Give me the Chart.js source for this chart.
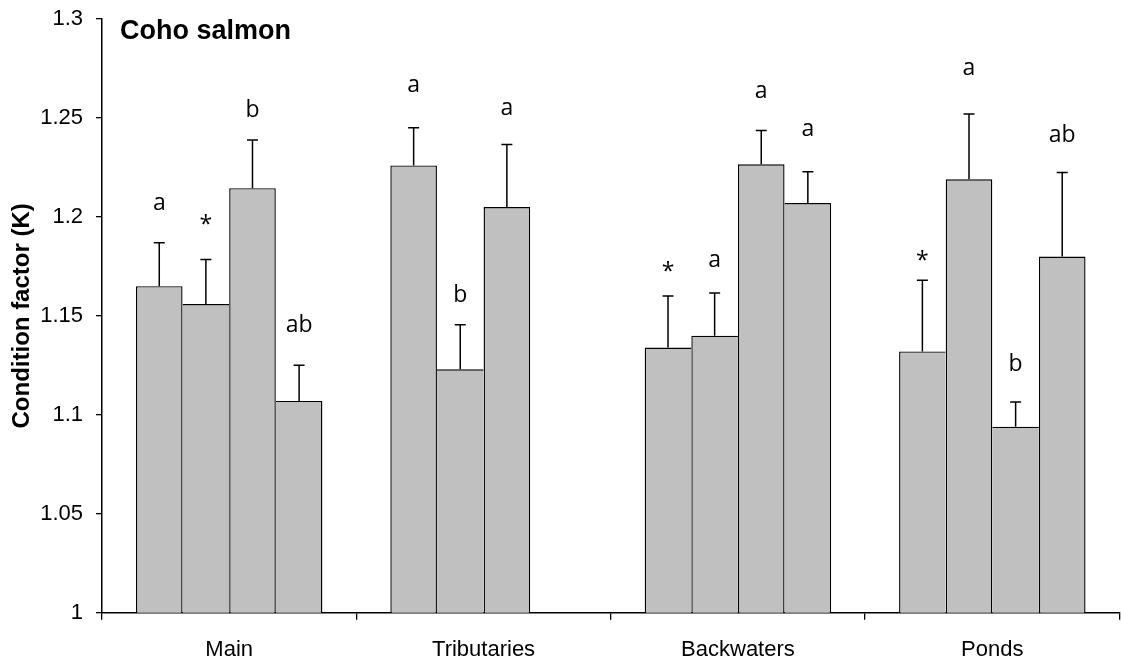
<!DOCTYPE html>
<html>
<head>
<meta charset="utf-8">
<title>Coho salmon condition factor</title>
<script src="https://cdn.jsdelivr.net/npm/chart.js@4.4.1/dist/chart.umd.min.js"></script>
<style>
  html, body { margin: 0; padding: 0; background: #fff; }
  #wrap { width: 1122px; height: 662px; }
</style>
</head>
<body>
<div id="wrap"><canvas id="chart" width="1122" height="662"></canvas></div>
<script>
// Habitat types along the x axis
const categories = ['Main', 'Tributaries', 'Backwaters', 'Ponds'];

// Mean condition factor (K), one array per bar position in each habitat group
const meanK1 = [1.165, 1.226, 1.134, 1.132];
const meanK2 = [1.156, 1.123, 1.140, 1.219];
const meanK3 = [1.2145, 1.205, 1.2266, 1.094];
const meanK4 = [1.107, null, 1.207, 1.180];

// Upper error (SE) for each bar
const errK1 = [0.022, 0.019, 0.026, 0.036];
const errK2 = [0.0225, 0.0225, 0.0215, 0.033];
const errK3 = [0.0244, 0.0316, 0.017, 0.0125];
const errK4 = [0.018, null, 0.0158, 0.0424];

// Significance letters above each bar
const sig1 = ['a', 'a', '*', '*'];
const sig2 = ['*', 'b', 'a', 'a'];
const sig3 = ['b', 'a', 'a', 'b'];
const sig4 = ['ab', '', 'a', 'ab'];

// Y axis tick labels (1.00 to 1.30 in steps of 0.05)
const yTickLabels = ['1', '1.05', '1.1', '1.15', '1.2', '1.25', '1.3'];

// Vertical gap (px) between each error cap and the centre of its letter
const letterLift = [
  [39, 42, 30, 25],
  [40, 32, 33, 45],
  [32, 36, 39, 40],
  [42, 0, 42, 40]
];

const means = [meanK1, meanK2, meanK3, meanK4];
const errors = [errK1, errK2, errK3, errK4];
const letters = [sig1, sig2, sig3, sig4];

const BAR_FILL = '#c0c0c0';
const INK = '#000000';
const AXIS_FONT = '"Liberation Sans", Arial, sans-serif';
const EDGE = 1.4;

// Outline: a shared side between neighbouring bars is drawn once, by the taller bar
function outline(ctx) {
  const ds = ctx.datasetIndex, i = ctx.dataIndex;
  const v = means[ds][i];
  const prev = ds > 0 ? means[ds - 1][i] : null;
  const next = ds < means.length - 1 ? means[ds + 1][i] : null;
  return {
    top: EDGE,
    left: (prev == null || prev <= v) ? EDGE : 0,
    right: (next == null || next < v) ? EDGE : 0,
    bottom: 0
  };
}

const datasets = means.map((vals, k) => ({
  label: 'Group ' + (k + 1),
  data: vals,
  backgroundColor: BAR_FILL,
  borderColor: INK,
  borderWidth: outline,
  borderSkipped: false,
  categoryPercentage: 0.733,
  barPercentage: 1.0
}));

// Error bars (upper whisker with cap) drawn from the bar elements
const errorBars = {
  id: 'errorBars',
  afterDatasetsDraw(chart) {
    const ctx = chart.ctx;
    const y = chart.scales.y;
    ctx.save();
    ctx.strokeStyle = INK;
    ctx.lineWidth = 1.5;
    chart.data.datasets.forEach((ds, k) => {
      const meta = chart.getDatasetMeta(k);
      meta.data.forEach((bar, i) => {
        const v = ds.data[i], e = errors[k][i];
        if (v == null || e == null) return;
        const top = y.getPixelForValue(v);
        const cap = y.getPixelForValue(v + e);
        ctx.beginPath();
        ctx.moveTo(bar.x, top);
        ctx.lineTo(bar.x, cap);
        ctx.moveTo(bar.x - 5.5, cap);
        ctx.lineTo(bar.x + 5.5, cap);
        ctx.stroke();
      });
    });
    ctx.restore();
  }
};

// Significance letters centred above each error cap
const sigLetters = {
  id: 'sigLetters',
  afterDatasetsDraw(chart) {
    const ctx = chart.ctx;
    const y = chart.scales.y;
    ctx.save();
    ctx.fillStyle = INK;
    ctx.font = '23px "Open Sans", "Noto Sans", sans-serif';
    ctx.textAlign = 'center';
    ctx.textBaseline = 'alphabetic';
    chart.data.datasets.forEach((ds, k) => {
      const meta = chart.getDatasetMeta(k);
      meta.data.forEach((bar, i) => {
        const t = letters[k][i];
        const v = ds.data[i], e = errors[k][i];
        if (!t || v == null) return;
        const cap = y.getPixelForValue(v + (e || 0));
        const centre = cap - letterLift[k][i];
        const m = ctx.measureText(t);
        const base = centre + (m.actualBoundingBoxAscent - m.actualBoundingBoxDescent) / 2;
        ctx.fillText(t, bar.x, base);
      });
    });
    ctx.restore();
  }
};

// Panel heading inside the plot area
const panelTitle = {
  id: 'panelTitle',
  afterDraw(chart) {
    const ctx = chart.ctx;
    ctx.save();
    ctx.fillStyle = INK;
    ctx.font = 'bold 27px ' + AXIS_FONT;
    ctx.textAlign = 'left';
    ctx.textBaseline = 'alphabetic';
    ctx.fillText('Coho salmon', chart.chartArea.left + 18, 39);
    ctx.restore();
  }
};

new Chart(document.getElementById('chart'), {
  type: 'bar',
  data: { labels: categories, datasets },
  options: {
    responsive: false,
    animation: false,
    devicePixelRatio: 1,
    layout: { padding: { top: 19, right: 2.5, left: 0, bottom: 0 } },
    plugins: {
      legend: { display: false },
      tooltip: { enabled: false }
    },
    scales: {
      x: {
        offset: true,
        grid: {
          offset: true,
          drawOnChartArea: false,
          drawTicks: true,
          tickLength: 7,
          color: INK,
          lineWidth: 1.3
        },
        border: { display: true, color: INK, width: 1.5 },
        ticks: {
          color: INK,
          font: { family: AXIS_FONT, size: 22 },
          padding: 17,
          maxRotation: 0,
          autoSkip: false
        },
        afterFit(scale) {
          scale.height = 49.3;
          scale.paddingLeft = 0;
          scale.paddingRight = 0;
        }
      },
      y: {
        min: 1,
        max: 1.3,
        ticks: {
          stepSize: 0.05,
          color: INK,
          font: { family: AXIS_FONT, size: 22 },
          padding: 13,
          callback: (v, i) => yTickLabels[i]
        },
        grid: {
          drawOnChartArea: false,
          drawTicks: true,
          tickLength: 6,
          color: INK,
          lineWidth: 1.3
        },
        border: { display: true, color: INK, width: 1.5 },
        title: {
          display: true,
          text: 'Condition factor (K)',
          color: INK,
          font: { family: AXIS_FONT, size: 24, weight: 'bold' },
          padding: { top: 8, bottom: 0 }
        },
        afterFit(scale) {
          scale.width = 102;
          scale.paddingTop = 0;
          scale.paddingBottom = 0;
        }
      }
    }
  },
  plugins: [errorBars, sigLetters, panelTitle]
});
</script>
</body>
</html>
